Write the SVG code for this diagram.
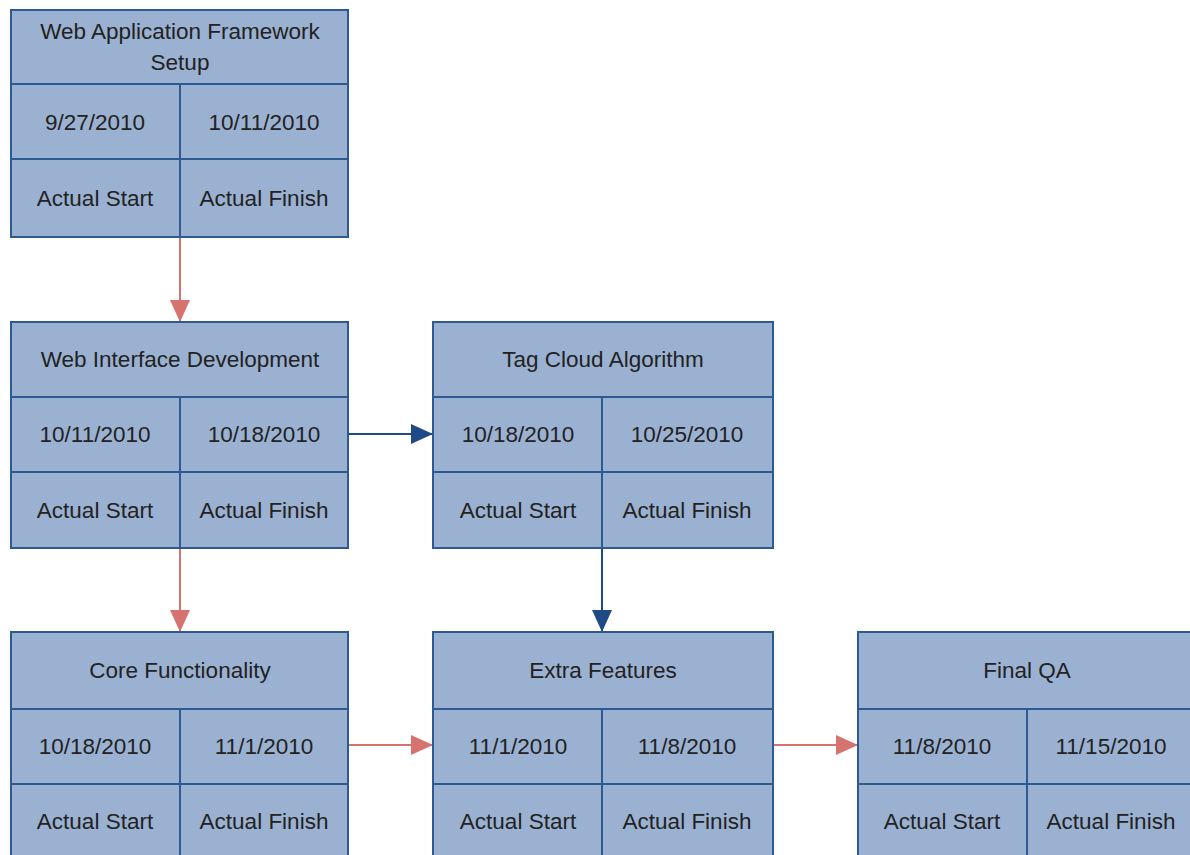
<svg xmlns="http://www.w3.org/2000/svg" width="1190" height="855" viewBox="0 0 1190 855">
<style>
.box{fill:#9bb1d1;stroke:#2d5a92;stroke-width:2}
.ln{stroke:#2d5a92;stroke-width:2;fill:none}
text{font-family:"Liberation Sans",Arial,sans-serif;font-size:22.5px;fill:#222222;text-anchor:middle;dominant-baseline:central}
.red{stroke:#d6736f;stroke-width:2;fill:none}
.blue{stroke:#1f4a85;stroke-width:2;fill:none}
</style>
<defs>
<marker id="ar" markerUnits="userSpaceOnUse" markerWidth="22" markerHeight="22" viewBox="0 0 22 22" refX="21" refY="11" orient="auto">
<path d="M0,1 L22,11 L0,21 Z" fill="#d6736f"/>
</marker>
<marker id="ab" markerUnits="userSpaceOnUse" markerWidth="22" markerHeight="22" viewBox="0 0 22 22" refX="21" refY="11" orient="auto">
<path d="M0,1 L22,11 L0,21 Z" fill="#1f4a85"/>
</marker>
</defs>
<rect width="1190" height="855" fill="#ffffff"/>
<g id="connectors">
<line class="red" x1="180" y1="237" x2="180" y2="321" marker-end="url(#ar)"/>
<line class="blue" x1="348" y1="434" x2="432" y2="434" marker-end="url(#ab)"/>
<line class="red" x1="180" y1="548" x2="180" y2="631" marker-end="url(#ar)"/>
<line class="blue" x1="602" y1="548" x2="602" y2="631" marker-end="url(#ab)"/>
<line class="red" x1="348" y1="745" x2="432" y2="745" marker-end="url(#ar)"/>
<line class="red" x1="773" y1="745" x2="857" y2="745" marker-end="url(#ar)"/>
</g>
<g id="node-setup">
<rect class="box" x="11" y="10" width="337" height="227"/>
<path class="ln" d="M11,84 H348 M11,159 H348 M180,84 V237"/>
<text x="180" y="31">Web Application Framework</text>
<text x="180" y="62">Setup</text>
<text x="95" y="122">9/27/2010</text>
<text x="264" y="122">10/11/2010</text>
<text x="95" y="198">Actual Start</text>
<text x="264" y="198">Actual Finish</text>
</g>
<g id="node-webinterface">
<rect class="box" x="11" y="322" width="337" height="226"/>
<path class="ln" d="M11,397 H348 M11,472 H348 M180,397 V548"/>
<text x="180" y="359">Web Interface Development</text>
<text x="95" y="434">10/11/2010</text>
<text x="264" y="434">10/18/2010</text>
<text x="95" y="510">Actual Start</text>
<text x="264" y="510">Actual Finish</text>
</g>
<g id="node-tagcloud">
<rect class="box" x="433" y="322" width="340" height="226"/>
<path class="ln" d="M433,397 H773 M433,472 H773 M602,397 V548"/>
<text x="603" y="359">Tag Cloud Algorithm</text>
<text x="518" y="434">10/18/2010</text>
<text x="687" y="434">10/25/2010</text>
<text x="518" y="510">Actual Start</text>
<text x="687" y="510">Actual Finish</text>
</g>
<g id="node-core">
<rect class="box" x="11" y="632" width="337" height="240"/>
<path class="ln" d="M11,709 H348 M11,784 H348 M180,709 V872"/>
<text x="180" y="670">Core Functionality</text>
<text x="95" y="746">10/18/2010</text>
<text x="264" y="746">11/1/2010</text>
<text x="95" y="821">Actual Start</text>
<text x="264" y="821">Actual Finish</text>
</g>
<g id="node-extra">
<rect class="box" x="433" y="632" width="340" height="240"/>
<path class="ln" d="M433,709 H773 M433,784 H773 M602,709 V872"/>
<text x="603" y="670">Extra Features</text>
<text x="518" y="746">11/1/2010</text>
<text x="687" y="746">11/8/2010</text>
<text x="518" y="821">Actual Start</text>
<text x="687" y="821">Actual Finish</text>
</g>
<g id="node-finalqa">
<rect class="box" x="858" y="632" width="340" height="240"/>
<path class="ln" d="M858,709 H1198 M858,784 H1198 M1027,709 V872"/>
<text x="1027" y="670">Final QA</text>
<text x="942" y="746">11/8/2010</text>
<text x="1111" y="746">11/15/2010</text>
<text x="942" y="821">Actual Start</text>
<text x="1111" y="821">Actual Finish</text>
</g>
</svg>
